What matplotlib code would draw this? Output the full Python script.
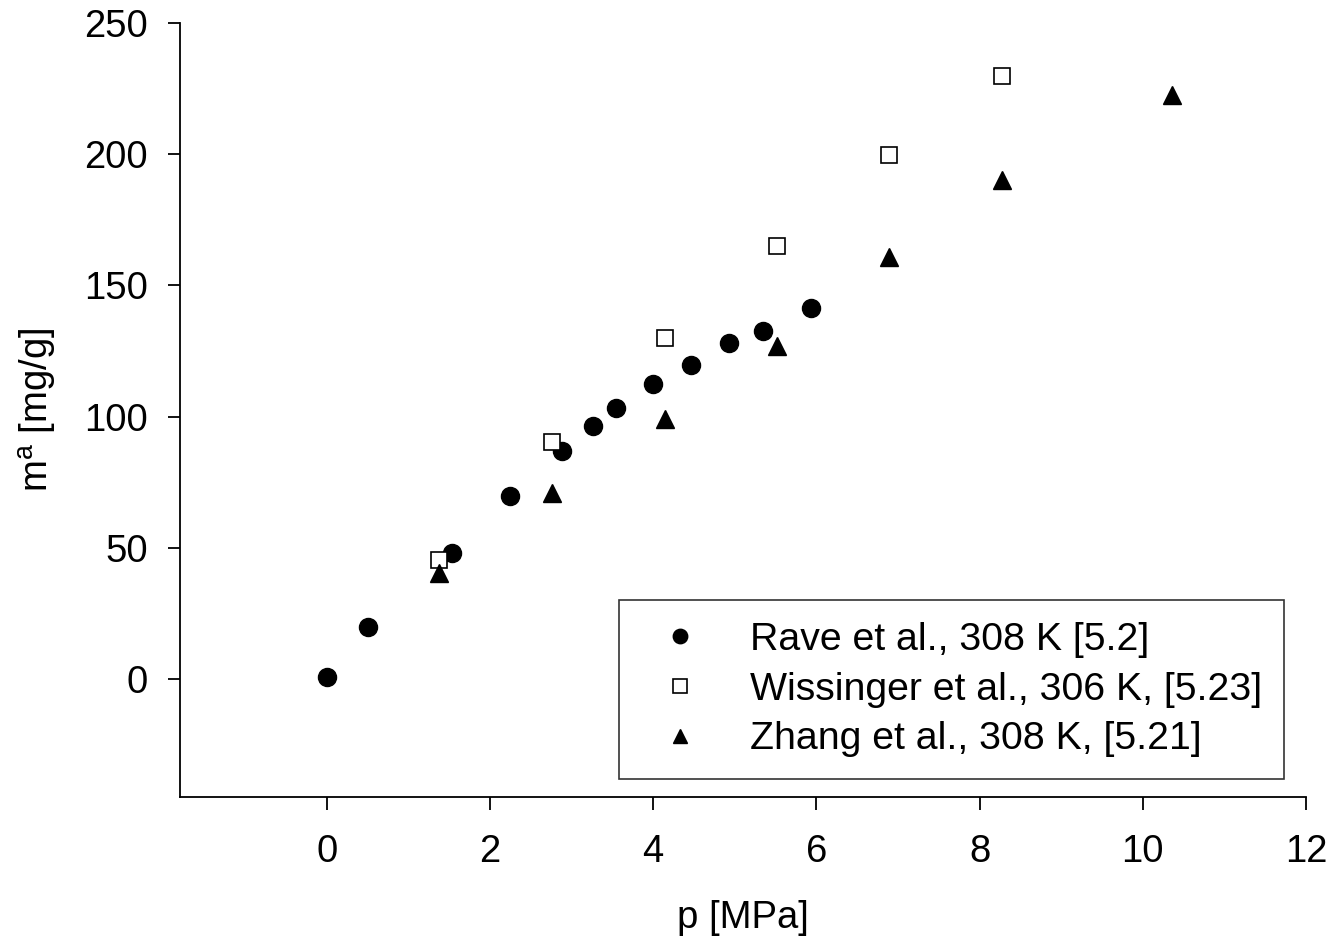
import matplotlib.pyplot as plt

plt.rcParams['font.family'] = ['Liberation Sans', 'DejaVu Sans']

# Rave et al., 308 K
rave_p = [0.0, 0.5, 1.53, 2.25, 2.88, 3.26, 3.54, 4.0, 4.46, 4.93, 5.34, 5.93]
rave_m = [0.8, 19.8, 47.9, 69.6, 86.8, 96.3, 103.1, 112.6, 119.5, 127.9, 132.8, 141.2]

# Wissinger et al., 306 K
wiss_p = [1.37, 2.76, 4.14, 5.52, 6.89, 8.28]
wiss_m = [45.3, 90.2, 130.1, 165.1, 199.8, 229.8]

# Zhang et al., 308 K
zhang_p = [1.37, 2.76, 4.14, 5.52, 6.89, 8.28, 10.36]
zhang_m = [40.5, 71.0, 99.0, 127.0, 161.0, 190.0, 222.6]

xticks = [0, 2, 4, 6, 8, 10, 12]
yticks = [0, 50, 100, 150, 200, 250]

fs = 27.5

fig = plt.figure(figsize=(13.34, 9.41), dpi=100)
ax = fig.add_axes([180/1334, 1-797/941, 1126/1334, 774/941])

ax.plot(rave_p, rave_m, 'o', color='black', markersize=13, linestyle='none',
        label='Rave et al., 308 K [5.2]')
ax.plot(wiss_p, wiss_m, 's', markerfacecolor='white', markeredgecolor='black',
        markeredgewidth=1.2, markersize=12, linestyle='none',
        label='Wissinger et al., 306 K, [5.23]')
ax.plot(zhang_p, zhang_m, '^', color='black', markersize=13, linestyle='none',
        label='Zhang et al., 308 K, [5.21]')

ax.set_xlim(-1.8, 12)
ax.set_ylim(-45, 250)
ax.set_xticks(xticks)
ax.set_yticks(yticks)
ax.spines['top'].set_visible(False)
ax.spines['right'].set_visible(False)
ax.spines['left'].set_linewidth(1.3)
ax.spines['bottom'].set_linewidth(1.3)
ax.tick_params(direction='out', length=9, width=1.3, labelsize=fs)
ax.tick_params(axis='x', pad=18)
ax.tick_params(axis='y', pad=14)

ax.set_xlabel('p [MPa]', fontsize=fs, labelpad=21)
ax.set_ylabel('m$^\\mathregular{a}$ [mg/g]', fontsize=fs, labelpad=18)

leg = ax.legend(loc='lower right', bbox_to_anchor=((1284-180)/1126, (797-779)/774),
                fontsize=28.3, markerscale=0.8, frameon=True, fancybox=False,
                edgecolor='black', borderpad=0.55, borderaxespad=0,
                handlelength=2.0, handletextpad=0.8, labelspacing=0.35)
leg.get_frame().set_linewidth(1.2)

fig.savefig('out.png', dpi=100)
